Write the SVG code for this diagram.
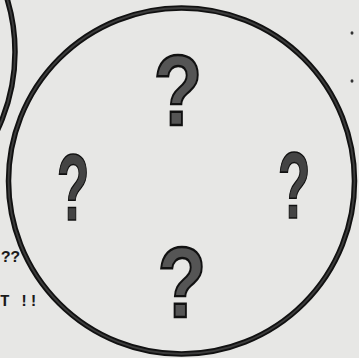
<svg xmlns="http://www.w3.org/2000/svg" width="359" height="358" viewBox="0 0 359 358">
<style>
.ring{fill:none;stroke:#111;stroke-width:5.5}
.ringin{fill:none;stroke:#3c3c3c;stroke-width:1.8}
.qb{font-family:"Liberation Sans",Arial,sans-serif;font-weight:bold;font-size:100px;fill:#555;stroke:#111;stroke-width:2.4;text-anchor:middle}
.qt{font-family:"Liberation Sans",Arial,sans-serif;font-weight:bold;font-size:94px;fill:#444;stroke:#111;stroke-width:1.6;text-anchor:middle}
.tw{font-family:"Liberation Mono","Courier New",monospace;font-weight:bold;font-size:16px;fill:#1a1a1a}
</style>
<rect width="359" height="358" fill="#e7e7e5"/>
<g id="left-circle">
<circle class="ring" cx="-168" cy="52" r="183"/>
<circle class="ringin" cx="-168" cy="52" r="183"/>
</g>
<g id="main-circle">
<circle class="ring" cx="181.5" cy="181" r="173"/>
<circle class="ringin" cx="181.5" cy="181" r="173"/>
</g>
<g id="q-top"><text class="qb" transform="translate(178,125) scale(0.8,1)">?</text></g>
<g id="q-left"><text class="qt" transform="translate(73,220) scale(0.57,1)">?</text></g>
<g id="q-right"><text class="qt" transform="translate(294,218) scale(0.57,1)">?</text></g>
<g id="q-bottom"><text class="qb" transform="translate(182,317) scale(0.8,1)">?</text></g>
<g id="side-text">
<text class="tw" x="1" y="262">??</text>
<text class="tw" x="0" y="306">T !!</text>
</g>
<g id="specks" fill="#333">
<ellipse cx="352" cy="33" rx="1.5" ry="1.8"/>
<ellipse cx="352" cy="81" rx="1.5" ry="1.8"/>
</g>
</svg>
